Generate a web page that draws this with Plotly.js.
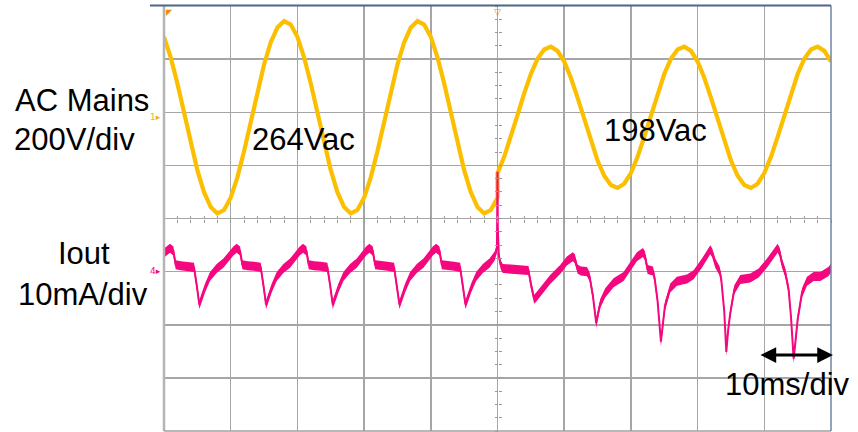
<!DOCTYPE html>
<html><head><meta charset="utf-8">
<script src="https://cdn.plot.ly/plotly-3.0.1.min.js"></script>
<style>html,body{margin:0;padding:0;background:#fff;}#chart{width:858px;height:432px;}</style>
</head><body><div id="chart"></div>
<script>
// Channel 1: AC mains voltage (V), read every 1 ms (264 Vac before 50 ms, 198 Vac after)
const mainsTime = [
  0,1,2,3,4,5,6,7,8,9,10,11,12,13,14,15,16,17,18,19,
  20,21,22,23,24,25,26,27,28,29,30,31,32,33,34,35,36,37,38,39,
  40,41,42,43,44,45,46,47,48,49,50,
  50,51,52,53,54,55,56,57,58,59,60,61,62,63,64,65,66,67,68,69,
  70,71,72,73,74,75,76,77,78,79,80,81,82,83,84,85,86,87,88,89,
  90,91,92,93,94,95,96,97,98,99,100
];
const mainsVolts = [
  303,226,128,17,-96,-199,-282,-338,-362,-349,-303,-226,-128,-17,96,199,282,338,362,349,
  303,226,128,17,-96,-199,-282,-338,-362,-349,-303,-226,-128,-17,96,199,282,338,362,349,
  303,226,128,17,-96,-199,-282,-338,-362,-349,-303,
  -210,-149,-74,8,90,163,220,255,266,250,210,149,74,-8,-90,-163,-220,-255,-266,-250,
  -210,-149,-74,8,90,163,220,255,266,250,210,149,74,-8,-90,-163,-220,-255,-266,-250,
  -210,-149,-74,8,90,163,220,255,266,250,210
];

// Channel 4: output current (mA)
const ioutTime = [
  0,0.9,1.4,1.75,2.5,3.5,4.5,4.9,5.3,5.6,6.15,6.9,7.9,8.9,9.65,10.4,
  10.9,11.4,11.75,12.5,13.5,14.5,14.9,15.3,15.6,16.15,16.9,17.9,18.9,19.65,20.35,
  20.85,21.35,21.7,22.5,23.5,24.5,24.9,25.3,25.6,26.15,26.9,27.9,28.9,29.6,30.3,
  30.8,31.3,31.65,32.5,33.5,34.5,34.9,35.3,35.6,36.15,36.9,37.9,38.9,39.6,40.3,
  40.8,41.3,41.65,42.5,43.5,44.4,44.8,45.2,45.5,46.05,46.8,47.8,48.8,49.6,49.92,
  50.0,50.05,50.2,50.5,50.8,
  52.0,53.5,54.65,55.0,55.5,55.8,56.4,57.9,59.4,60.4,61.3,61.6,62.0,62.5,63.4,63.8,
  64.3,64.8,65.1,65.4,66.15,67.4,68.9,69.9,70.9,71.8,72.1,72.5,73.3,73.55,
  74.0,74.5,74.8,75.1,75.9,76.9,78.4,79.4,80.65,81.9,82.2,82.65,83.3,83.55,
  84.0,84.3,84.6,84.9,85.5,86.4,87.9,89.15,90.4,92.0,92.3,92.65,93.15,93.65,
  94.0,94.4,94.7,95.0,95.65,96.4,97.4,98.4,99.65,100
];
const ioutMilliamps = [
  3.5,4.4,3.9,1.3,1.1,1.0,0.8,-2.5,-6.2,-5.1,-3.1,-0.9,0.6,1.6,2.8,3.9,
  4.4,3.9,1.3,1.1,1.0,0.8,-2.5,-6.2,-5.1,-3.1,-0.9,0.6,1.6,2.8,3.9,
  4.4,3.9,1.3,1.1,1.0,0.8,-2.5,-6.2,-5.1,-3.1,-0.9,0.6,1.6,2.8,3.9,
  4.4,3.9,1.3,1.1,1.0,0.8,-2.5,-6.2,-5.1,-3.1,-0.9,0.6,1.6,2.8,3.9,
  4.4,3.9,1.3,1.1,1.0,0.8,-2.5,-6.2,-5.1,-3.1,-0.9,0.6,1.6,3.0,4.5,
  18.8,8.0,3.0,1.2,0.6,
  0.5,0.3,0.2,-2.3,-5.2,-4.8,-3.8,-1.5,0.4,2.0,2.8,2.4,0.5,0.1,0.0,-0.9,
  -4.5,-9.7,-7.8,-6.0,-4.0,-2.1,-0.9,1.0,2.8,3.6,3.0,0.4,0.1,-1.2,
  -5.5,-13.2,-9.8,-6.5,-3.1,-1.8,-1.4,-0.6,1.6,4.1,3.5,1.6,0.1,-1.5,
  -7.5,-15.1,-10.8,-7.8,-3.4,-1.5,-1.2,-0.25,1.6,4.4,3.7,1.6,-0.2,-3.4,
  -8.5,-16.4,-12.8,-9.0,-4.0,-1.8,-0.9,-0.9,0.05,0.7
];

// Labels
const mainsLabel = ['AC Mains', '200V/div'];
const ioutLabel = ['Iout', '10mA/div'];
const voltageLabels = ['264Vac', '198Vac'];
const timebaseLabel = '10ms/div';

// ---- styling / layout ----
const YELLOW = '#FCBF00', PINK = '#F5077F', GRID = '#a6a6a6';
const L = 164, R = 27, T = 6, B = 1, W = 858, H = 432;
const PW = W - L - R, PH = H - T - B;
const px = x => (x - L) / PW;           // pixel -> paper x
const py = y => (H - B - y) / PH;       // pixel -> paper y
const BAND = 0.85;                      // half-height of the scope noise band (mA)

const traces = [
  {x: mainsTime, y: mainsVolts, xaxis: 'x', yaxis: 'y', mode: 'lines',
   line: {color: YELLOW, width: 4.2}, hoverinfo: 'skip'},
  {x: ioutTime, y: ioutMilliamps.map(v => v - BAND), xaxis: 'x', yaxis: 'y2', mode: 'lines',
   line: {color: PINK, width: 0}, hoverinfo: 'skip'},
  {x: ioutTime, y: ioutMilliamps.map(v => v + BAND), xaxis: 'x', yaxis: 'y2', mode: 'lines',
   fill: 'tonexty', fillcolor: PINK, line: {color: PINK, width: 0}, hoverinfo: 'skip'},
  {x: ioutTime, y: ioutMilliamps, xaxis: 'x', yaxis: 'y2', mode: 'lines',
   line: {color: PINK, width: 2}, hoverinfo: 'skip'},
  // carriers for the centre-line minor tick axes
  {x: [0], y: [0], xaxis: 'x2', yaxis: 'y', mode: 'none', hoverinfo: 'skip'},
  {x: [0], y: [0], xaxis: 'x3', yaxis: 'y', mode: 'none', hoverinfo: 'skip'},
  {x: [0], y: [0], xaxis: 'x', yaxis: 'y3', mode: 'none', hoverinfo: 'skip'},
  {x: [0], y: [0], xaxis: 'x', yaxis: 'y4', mode: 'none', hoverinfo: 'skip'}
];

const VR = [-1181, 419];
const base = {showticklabels: false, zeroline: false, showline: false, fixedrange: true};
const minorX = t => Object.assign({}, base, {overlaying: 'x', anchor: 'free', position: 0.5, range: [0, 100],
  tick0: 0, dtick: 2, ticks: t, ticklen: 3, tickwidth: 1, tickcolor: '#9a9a9a', showgrid: false});
const minorY = t => Object.assign({}, base, {overlaying: 'y', anchor: 'free', position: 0.5, range: VR,
  tick0: 19, dtick: 50, ticks: t, ticklen: 3, tickwidth: 1, tickcolor: '#9a9a9a', showgrid: false});

const font = {family: 'Arial, "Liberation Sans", sans-serif', size: 31, color: '#000'};
const txt = (text, x, y, xa) => ({text, x: px(x), y: py(y), xref: 'paper', yref: 'paper',
  xanchor: xa, yanchor: 'middle', showarrow: false, font});

const layout = {
  width: W, height: H, margin: {l: L, r: R, t: T, b: B, pad: 0},
  paper_bgcolor: '#fff', plot_bgcolor: '#fff', showlegend: false,
  xaxis: Object.assign({}, base, {range: [0, 100], tick0: 0, dtick: 10, ticks: '', showgrid: true,
    gridcolor: GRID, gridwidth: 1.5}),
  yaxis: Object.assign({}, base, {range: VR, tick0: 19, dtick: 200, ticks: '', showgrid: true,
    gridcolor: GRID, gridwidth: 1.5}),
  yaxis2: Object.assign({}, base, {range: [-30, 50], overlaying: 'y', ticks: '', showgrid: false}),
  xaxis2: minorX('outside'), xaxis3: minorX('inside'),
  yaxis3: minorY('outside'), yaxis4: minorY('inside'),
  shapes: [
    {type: 'line', xref: 'paper', yref: 'paper', x0: 0, x1: 0, y0: 0, y1: 1, line: {color: '#b4b4b4', width: 2.5}},
    {type: 'line', xref: 'paper', yref: 'paper', x0: 0, x1: 1, y0: 0, y1: 0, line: {color: '#a0a0a0', width: 1.5}},
    {type: 'line', xref: 'paper', yref: 'paper', x0: 1, x1: 1, y0: 0, y1: 1.001, line: {color: '#6f84a3', width: 1.5}},
    {type: 'line', xref: 'paper', yref: 'paper', x0: px(150), x1: px(831), y0: py(5.5), y1: py(5.5), line: {color: '#4e6585', width: 2}}
  ],
  annotations: [
    txt(mainsLabel[0], 13, 101, 'left'),
    txt(mainsLabel[1], 12, 139, 'left'),
    txt(ioutLabel[0], 84, 253, 'center'),
    txt(ioutLabel[1], 83, 294, 'center'),
    txt(voltageLabels[0], 250, 139.7, 'left'),
    txt(voltageLabels[1], 601.5, 130.7, 'left'),
    txt(timebaseLabel, 723, 384, 'left'),
    {text: '1\u25B8', x: px(163), y: py(117), xref: 'paper', yref: 'paper', xanchor: 'right', yanchor: 'middle',
     showarrow: false, font: {family: 'DejaVu Sans', size: 9, color: '#F5B400'}},
    {text: '4\u25B8', x: px(163), y: py(271), xref: 'paper', yref: 'paper', xanchor: 'right', yanchor: 'middle',
     showarrow: false, font: {family: 'DejaVu Sans', size: 9, color: PINK}},
    {text: '\u25E4', x: px(164), y: py(6), xref: 'paper', yref: 'paper', xanchor: 'left', yanchor: 'top',
     showarrow: false, font: {family: 'DejaVu Sans', size: 8, color: '#F08A10'}},
    {text: '\u25BD', x: px(497.5), y: py(5), xref: 'paper', yref: 'paper', xanchor: 'center', yanchor: 'top',
     showarrow: false, font: {family: 'DejaVu Sans', size: 9, color: '#F08A10'}},
    {text: '', x: 100.3, y: -15.7, xref: 'x', yref: 'y2', ax: 89.2, ay: -15.7, axref: 'x', ayref: 'y2',
     showarrow: true, arrowside: 'end+start', arrowhead: 2, startarrowhead: 2, arrowsize: 1.05,
     startarrowsize: 1.05, arrowwidth: 3, arrowcolor: '#000', standoff: 0, startstandoff: 0}
  ]
};

Plotly.newPlot('chart', traces, layout, {staticPlot: true, displayModeBar: false});
</script>
</body></html>
